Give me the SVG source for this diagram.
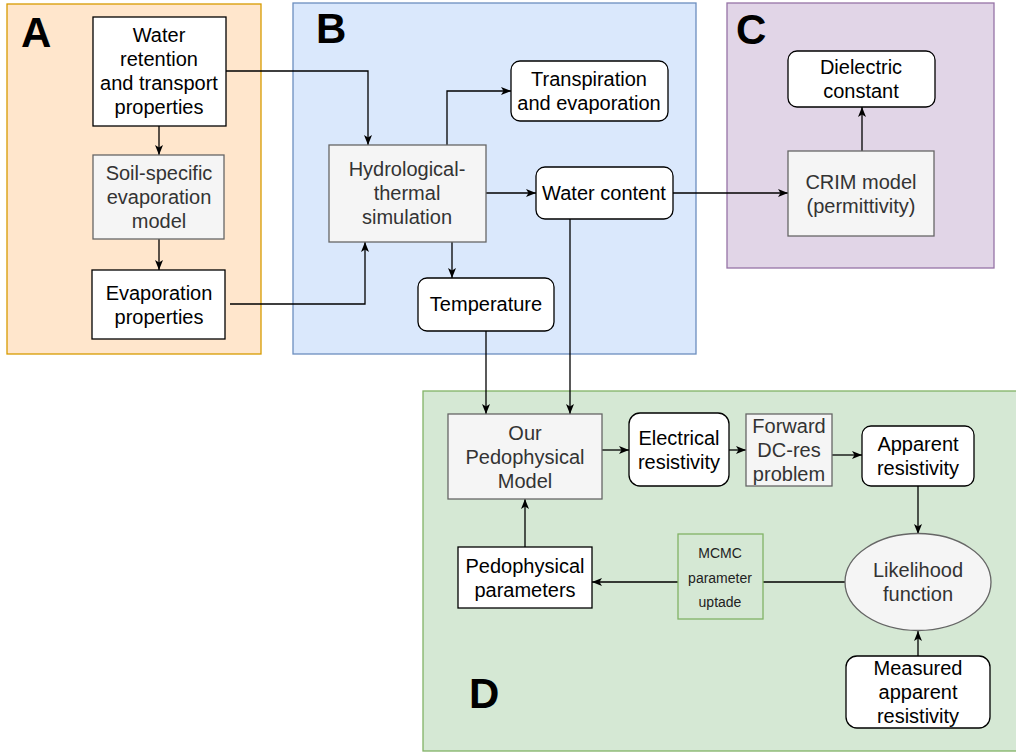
<svg xmlns="http://www.w3.org/2000/svg" width="1016" height="753" viewBox="0 0 1016 753">
  <defs>
    <marker id="arrow" viewBox="0 0 10 10" refX="10" refY="5" markerWidth="10" markerHeight="10" markerUnits="userSpaceOnUse" orient="auto">
      <path d="M0,1 L10,5 L0,9 L2.5,5 z" fill="#000"/>
    </marker>
    <style>
      text { font-family: "Liberation Sans", Arial, sans-serif; font-size: 20px; fill: #000; text-anchor: middle; }
      .label { font-size: 42px; font-weight: bold; text-anchor: start; }
      .muted { fill: #333; }
      .small { font-size: 14px; fill: #222; }
      .plain { fill: #fff; stroke: #000; stroke-width: 1.3; }
      .model { fill: #f5f5f5; stroke: #666; stroke-width: 1.3; }
      .conn path { fill: none; stroke: #000; stroke-width: 1.3; }
      .conn .arr { marker-end: url(#arrow); }
    </style>
  </defs>

  <!-- panels -->
  <g id="panel-A">
    <rect x="7" y="4" width="254" height="350" fill="#ffe6cc" stroke="#d79b00" stroke-width="1.3"/>
    <text class="label" x="21" y="47">A</text>
  </g>
  <g id="panel-B">
    <rect x="293" y="3" width="403" height="351" fill="#dae8fc" stroke="#6c8ebf" stroke-width="1.3"/>
    <text class="label" x="316" y="43">B</text>
  </g>
  <g id="panel-C">
    <rect x="727" y="3" width="267" height="265" fill="#e1d5e7" stroke="#9673a6" stroke-width="1.3"/>
    <text class="label" x="736" y="44">C</text>
  </g>
  <g id="panel-D">
    <rect x="423" y="391" width="600" height="360" fill="#d5e8d4" stroke="#82b366" stroke-width="1.3"/>
    <text class="label" x="469" y="708">D</text>
  </g>

  <!-- connectors -->
  <g id="connectors" class="conn">
    <path class="arr" d="M159,126 V155"/>
    <path class="arr" d="M159,239 V270"/>
    <path class="arr" d="M226,71 H368 V145"/>
    <path class="arr" d="M230,304 H365 V242"/>
    <path class="arr" d="M447,145 V91 H511"/>
    <path class="arr" d="M486,193 H536"/>
    <path class="arr" d="M452,242 V278"/>
    <path class="arr" d="M673,193 H788"/>
    <path class="arr" d="M862,151 V107"/>
    <path class="arr" d="M486,331 V414"/>
    <path class="arr" d="M570,219 V414"/>
    <path class="arr" d="M602,450 H629"/>
    <path class="arr" d="M729,450 H746"/>
    <path class="arr" d="M832,455 H862"/>
    <path class="arr" d="M918,486 V534"/>
    <path class="arr" d="M918,656 V631"/>
    <path d="M845,582 H763"/>
    <path class="arr" d="M678,582 H592"/>
    <path class="arr" d="M525,547 V499"/>
  </g>

  <!-- panel A nodes -->
  <g id="water-retention">
    <rect class="plain" x="93" y="17" width="133" height="109"/>
    <text x="159" y="42">Water</text>
    <text x="159" y="66">retention</text>
    <text x="159" y="90">and transport</text>
    <text x="159" y="114">properties</text>
  </g>
  <g id="evaporation-model">
    <rect class="model" x="93" y="155" width="131" height="84"/>
    <text class="muted" x="159" y="180">Soil-specific</text>
    <text class="muted" x="159" y="204">evaporation</text>
    <text class="muted" x="159" y="228">model</text>
  </g>
  <g id="evaporation-properties">
    <rect class="plain" x="92" y="270" width="133" height="69"/>
    <text x="159" y="300">Evaporation</text>
    <text x="159" y="324">properties</text>
  </g>

  <!-- panel B nodes -->
  <g id="hydro-simulation">
    <rect class="model" x="329" y="145" width="157" height="97"/>
    <text class="muted" x="407" y="176">Hydrological-</text>
    <text class="muted" x="407" y="200">thermal</text>
    <text class="muted" x="407" y="224">simulation</text>
  </g>
  <g id="transpiration">
    <rect class="plain" x="511" y="61" width="157" height="60" rx="9"/>
    <text x="589" y="86">Transpiration</text>
    <text x="589" y="110">and evaporation</text>
  </g>
  <g id="water-content">
    <rect class="plain" x="536" y="167" width="137" height="52" rx="9"/>
    <text x="604" y="200">Water content</text>
  </g>
  <g id="temperature">
    <rect class="plain" x="418" y="278" width="136" height="53" rx="9"/>
    <text x="486" y="311">Temperature</text>
  </g>

  <!-- panel C nodes -->
  <g id="dielectric">
    <rect class="plain" x="788" y="51" width="147" height="56" rx="9"/>
    <text x="861" y="74">Dielectric</text>
    <text x="861" y="98">constant</text>
  </g>
  <g id="crim-model">
    <rect class="model" x="788" y="151" width="146" height="85"/>
    <text class="muted" x="861" y="189">CRIM model</text>
    <text class="muted" x="861" y="213">(permittivity)</text>
  </g>

  <!-- panel D nodes -->
  <g id="pedophysical-model">
    <rect class="model" x="448" y="414" width="154" height="85"/>
    <text class="muted" x="525" y="440">Our</text>
    <text class="muted" x="525" y="464">Pedophysical</text>
    <text class="muted" x="525" y="488">Model</text>
  </g>
  <g id="electrical-resistivity">
    <rect class="plain" x="629" y="413" width="100" height="73" rx="11"/>
    <text x="679" y="445">Electrical</text>
    <text x="679" y="469">resistivity</text>
  </g>
  <g id="forward-problem">
    <rect class="model" x="746" y="414" width="86" height="72"/>
    <text class="muted" x="789" y="433">Forward</text>
    <text class="muted" x="789" y="457">DC-res</text>
    <text class="muted" x="789" y="481">problem</text>
  </g>
  <g id="apparent-resistivity">
    <rect class="plain" x="862" y="426" width="112" height="60" rx="9"/>
    <text x="918" y="451">Apparent</text>
    <text x="918" y="475">resistivity</text>
  </g>
  <g id="likelihood">
    <ellipse cx="918" cy="582" rx="73" ry="48.5" fill="#f5f5f5" stroke="#666" stroke-width="1.3"/>
    <text class="muted" x="918" y="577">Likelihood</text>
    <text class="muted" x="918" y="601">function</text>
  </g>
  <g id="measured-resistivity">
    <rect class="plain" x="846" y="656" width="144" height="72" rx="11"/>
    <text x="918" y="675">Measured</text>
    <text x="918" y="699">apparent</text>
    <text x="918" y="723">resistivity</text>
  </g>
  <g id="mcmc-update">
    <rect x="678" y="534" width="85" height="85" fill="#d5e8d4" stroke="#82b366" stroke-width="1.3"/>
    <text class="small" x="720" y="558">MCMC</text>
    <text class="small" x="720" y="583">parameter</text>
    <text class="small" x="720" y="607">uptade</text>
  </g>
  <g id="pedophysical-parameters">
    <rect class="plain" x="458" y="547" width="134" height="61"/>
    <text x="525" y="573">Pedophysical</text>
    <text x="525" y="597">parameters</text>
  </g>
</svg>
